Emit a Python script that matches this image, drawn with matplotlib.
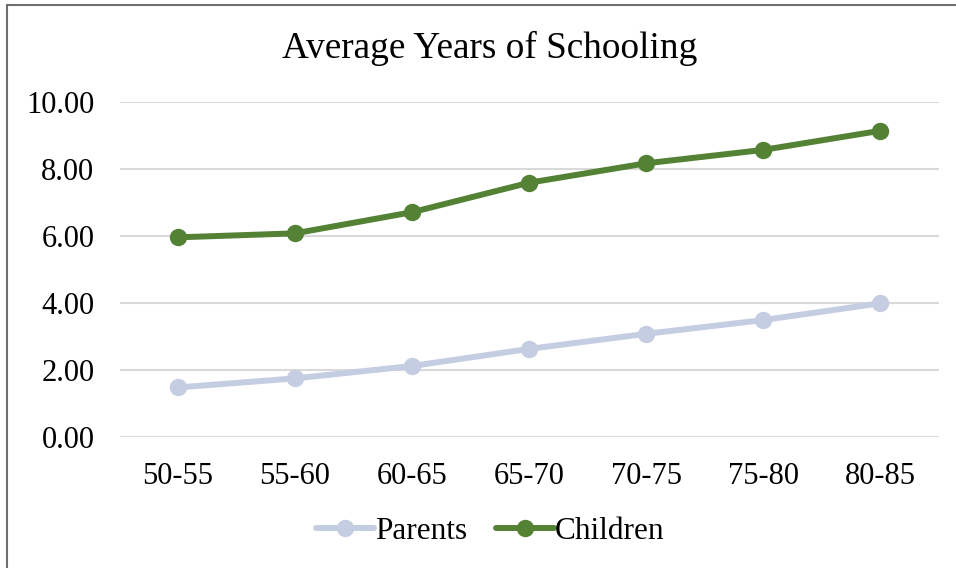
import matplotlib.pyplot as plt
from matplotlib.patches import Rectangle

plt.rcParams['font.family'] = ['Liberation Serif', 'DejaVu Serif']

cohorts = ['50-55', '55-60', '60-65', '65-70', '70-75', '75-80', '80-85']
parents = [1.48, 1.75, 2.12, 2.63, 3.08, 3.49, 3.99]
children = [5.96, 6.08, 6.71, 7.59, 8.17, 8.57, 9.14]

fig = plt.figure(figsize=(9.56, 5.68), dpi=100)
ax = fig.add_axes([0.125, 0.2306, 0.8567, 0.5898])

x = range(len(cohorts))
ax.plot(x, parents, color='#C5CDE3', lw=4.3, marker='o', ms=11.5, label='Parents',
        solid_capstyle='round')
ax.plot(x, children, color='#548235', lw=4.3, marker='o', ms=11.5, label='Children',
        solid_capstyle='round')

ax.set_xlim(-0.5, len(cohorts) - 0.5)
ax.set_ylim(0, 10)
ax.set_yticks([0, 2, 4, 6, 8, 10])
ax.set_yticklabels(['%.2f' % v for v in [0, 2, 4, 6, 8, 10]])
ax.set_xticks(list(x))
ax.set_xticklabels(cohorts)
ax.tick_params(length=0, labelsize=22)
ax.tick_params(axis='y', pad=18)
ax.tick_params(axis='x', pad=18)
ax.grid(axis='y', color='#D9D9D9', lw=1.5)
ax.set_axisbelow(True)
for s in ax.spines.values():
    s.set_visible(False)

fig.text(0.512, 0.915, 'Average Years of Schooling', ha='center', va='center', fontsize=26.8)

fig.legend(loc='center', bbox_to_anchor=(0.513, 0.065), ncol=2, frameon=False,
           fontsize=22.5, handlelength=1.85, handletextpad=0.05, columnspacing=0.9)

# chart border
fig.patches.append(Rectangle((7 / 956, -0.1), 1.2, 1.1 - 5 / 568, transform=fig.transFigure,
                             fill=False, edgecolor='#707070', lw=1.5))

fig.savefig('out.png', dpi=100)
